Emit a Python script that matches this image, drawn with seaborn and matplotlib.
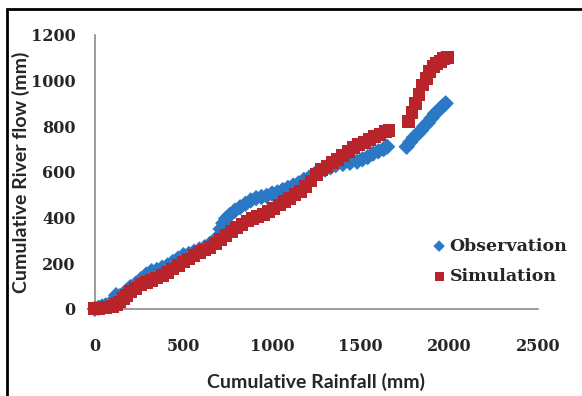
import pandas as pd
import numpy as np
import matplotlib.pyplot as plt
import seaborn as sns
from matplotlib.patches import Rectangle

obs_rain = [0, 20, 40, 60, 80, 100, 120, 140, 160, 180, 200, 230, 260, 290, 320,
            350, 380, 410, 440, 470, 500, 530, 560, 590, 620, 650, 680, 700, 710,
            725, 740, 760, 790, 820, 850, 880, 910, 940, 970, 1000, 1030, 1060,
            1090, 1120, 1150, 1180, 1210, 1240, 1270, 1300, 1330, 1360, 1400,
            1440, 1480, 1510, 1540, 1570, 1600, 1630, 1650,
            1760, 1780, 1800, 1820, 1840, 1860, 1880, 1900, 1920, 1940, 1960, 1980]
obs_flow = [0, 5, 10, 15, 20, 30, 60, 55, 65, 80, 95, 110, 130, 150, 165,
            170, 180, 190, 205, 220, 235, 240, 250, 260, 270, 285, 300, 320, 350,
            375, 395, 410, 430, 445, 460, 475, 485, 490, 495, 505, 510, 520,
            530, 540, 550, 565, 575, 590, 600, 610, 620, 630, 635,
            640, 645, 655, 665, 680, 690, 700, 710,
            710, 730, 750, 765, 780, 800, 815, 835, 855, 870, 885, 900]

# Simulated cumulative flow
sim_rain = [0, 20, 40, 60, 80, 100, 120, 140, 160, 180, 200, 230, 260, 290, 320,
            350, 380, 410, 440, 470, 500, 530, 560, 590, 620, 650, 680, 710, 740,
            770, 800, 830, 860, 890, 920, 950, 980, 1010, 1040, 1070, 1100, 1130,
            1160, 1190, 1220, 1250, 1280, 1310, 1340, 1370, 1400, 1430, 1460,
            1490, 1520, 1550, 1580, 1610, 1640, 1660,
            1770, 1790, 1810, 1830, 1850, 1870, 1890, 1910, 1930, 1950, 1970, 1990]
sim_flow = [0, 2, 4, 6, 8, 12, 20, 30, 45, 60, 75, 90, 105, 115, 125,
            135, 145, 160, 175, 190, 205, 218, 232, 246, 258, 270, 288, 305, 322,
            340, 355, 370, 385, 395, 405, 415, 428, 440, 455, 470, 485, 500,
            515, 535, 560, 590, 610, 625, 640, 655, 670, 690, 705,
            720, 730, 740, 755, 765, 775, 780,
            820, 860, 900, 940, 980, 1010, 1040, 1060, 1075, 1085, 1095, 1100]

x_ticks = [0, 500, 1000, 1500, 2000, 2500]
y_ticks = [0, 200, 400, 600, 800, 1000, 1200]

obs_df = pd.DataFrame({'rain': obs_rain, 'flow': obs_flow})
sim_df = pd.DataFrame({'rain': sim_rain, 'flow': sim_flow})

sns.set_style('white')
serif = ['DejaVu Serif']
sans = ['Lato', 'DejaVu Sans']

fig = plt.figure(figsize=(5.82, 3.96), dpi=100)
ax = fig.add_axes([0.163, 0.220, 0.761, 0.692])

sns.scatterplot(data=obs_df, x='rain', y='flow', ax=ax, marker='D', s=70,
                color='#2b78c5', edgecolor='none', label='Observation',
                clip_on=False, zorder=3)
sns.scatterplot(data=sim_df, x='rain', y='flow', ax=ax, marker='s', s=85,
                color='#b8242a', edgecolor='none', label='Simulation',
                clip_on=False, zorder=4)

ax.set_xlim(0, 2500)
ax.set_ylim(0, 1200)
ax.set_xticks(x_ticks)
ax.set_yticks(y_ticks)
ax.tick_params(length=0)
ax.tick_params(axis='x', pad=21)
ax.tick_params(axis='y', pad=14)
for lab in ax.get_xticklabels() + ax.get_yticklabels():
    lab.set_family(serif)
    lab.set_fontweight('bold')
    lab.set_fontsize(11.5)

for side in ['top', 'right']:
    ax.spines[side].set_visible(False)
for side in ['left', 'bottom']:
    ax.spines[side].set_color('#8c8c8c')
    ax.spines[side].set_linewidth(1.2)

ax.set_xlabel('Cumulative Rainfall (mm)', family=sans, fontweight='bold',
              fontsize=14, labelpad=13)
ax.set_ylabel('Cumulative River flow (mm)', family=sans, fontweight='bold',
              fontsize=14)
ax.yaxis.set_label_coords(-0.147, 0.5)

leg = ax.legend(loc='upper left', bbox_to_anchor=(420 / 582, 1 - 229 / 396),
                bbox_transform=fig.transFigure,
                frameon=False, handletextpad=0.0, labelspacing=0.75,
                prop={'family': serif, 'weight': 'bold', 'size': 12.5},
                markerscale=0.7, borderpad=0, handlelength=1.2)

# outer frame around the picture (right and bottom edges run off the image)
fig.patches.append(Rectangle((0.012, -0.05), 1.1, 1.028, transform=fig.transFigure,
                             fill=False, edgecolor='black', linewidth=2))

fig.savefig('out.png', dpi=100)
plt.close(fig)
